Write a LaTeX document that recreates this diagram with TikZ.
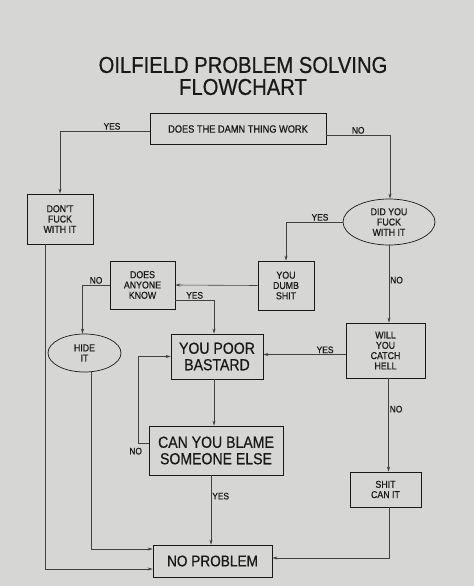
\documentclass[tikz,border=0pt]{standalone}
\usepackage{fontspec}
\setmainfont{Liberation Sans}[FakeStretch=0.88, FakeBold=0.6]
\usepackage{xcolor}
\usepackage{tikz}
\usetikzlibrary{
    shapes.geometric,
    arrows.meta,
    positioning
}
\definecolor{paper}{RGB}{214,214,212}
\definecolor{ink}{RGB}{25,25,25}
\definecolor{wire}{RGB}{65,65,65}
\tikzstyle{box} = [
    rectangle, draw=ink,
    line width=0.7pt,
    text=ink,
    align=center,
    inner sep=1pt
]
\tikzstyle{oval} = [
    ellipse, draw=ink,
    line width=0.7pt,
    text=ink,
    align=center,
    inner sep=0pt
]
\tikzstyle{arrow} = [
    draw=wire,
    line width=0.6pt,
    -{Stealth[length=5pt,width=3pt]}
]
\tikzstyle{lbl} = [
    text=ink,
    inner sep=1pt,
    font=\fontsize{9.5}{10}\selectfont
]

\begin{document}
\begin{tikzpicture}[
    x=1pt, y=-1pt,
    small/.style={font=\fontsize{10}{10.3}\selectfont},
    big/.style={font=\fontsize{16}{16.5}\selectfont}
]

% Papier
\fill[paper] (0,0) rectangle (474,586);
\useasboundingbox (0,0) rectangle (474,586);

% Titel
\node[text=ink, align=center, font=\fontsize{23}{22}\selectfont] (title) at (243,76)
    {OILFIELD PROBLEM SOLVING\\FLOWCHART};

% Fragen und Antworten
\node[box, font=\fontsize{10.5}{11}\selectfont, minimum width=176, minimum height=31] (work) at (238,129)
    {DOES THE DAMN THING WORK};
\node[box, small, minimum width=66, minimum height=50] (dontfuck) at (60,219)
    {DON'T\\FUCK\\WITH IT};
\node[oval, small, minimum width=92, minimum height=46] (didyou) at (389,222)
    {DID YOU\\FUCK\\WITH IT};
\node[box, small, minimum width=56, minimum height=49] (dumb) at (286,285.5)
    {YOU\\DUMB\\SHIT};
\node[box, small, minimum width=65, minimum height=48] (anyone) at (142.5,285)
    {DOES\\ANYONE\\KNOW};
\node[box, small, minimum width=79, minimum height=55] (catch) at (385.5,350.5)
    {WILL\\YOU\\CATCH\\HELL};
\node[oval, small, minimum width=73, minimum height=38] (hide) at (84.5,353)
    {HIDE\\IT};
\node[box, big, minimum width=92, minimum height=45] (poor) at (217,356.5)
    {YOU POOR\\BASTARD};
\node[box, big, minimum width=134, minimum height=49] (blame) at (216,450.5)
    {CAN YOU BLAME\\SOMEONE ELSE};
\node[box, small, minimum width=71, minimum height=35] (shit) at (385.5,489.5)
    {SHIT\\CAN IT};
\node[box, font=\fontsize{15.5}{16}\selectfont, minimum width=119, minimum height=32] (noprob) at (212.5,561)
    {NO PROBLEM};

% Verbindungen
\draw[arrow] ([yshift=-2]work.west) -| node[lbl, above, pos=0.21] {YES} (dontfuck.north);
\draw[arrow] ([yshift=-6]work.east) -| node[lbl, above, pos=0.25] {NO} ([xshift=1]didyou.north);
\draw[arrow] (didyou.west) -| node[lbl, above, pos=0.2] {YES} (dumb.north);
\draw[arrow] (didyou.south) -- node[lbl, right, pos=0.45] {NO} (didyou.south |- catch.north);
\draw[arrow] (dumb.west) -- (anyone.east);
\draw[arrow] (anyone.west) -| node[lbl, above, pos=0.25] {NO} ([xshift=-2]hide.north);
\draw[arrow] ([yshift=-15]anyone.east) -| node[lbl, above, pos=0.25] {YES} ([xshift=-3]poor.north);
\draw[arrow] ([yshift=-4]catch.west) -- node[lbl, above, pos=0.25] {YES} ([yshift=-4]catch.west -| poor.east);
\draw[arrow] ([xshift=-3]poor.south) -- ([xshift=-3]poor.south |- blame.north);
\draw[arrow] ([yshift=7]blame.west) -- ++(-10,0) node[lbl, below, xshift=-3, yshift=-3] {NO} |- (poor.west);
\draw[arrow] ([xshift=-5]blame.south) -- node[lbl, right, pos=0.3] {YES} ([xshift=-5]blame.south |- noprob.north);
\draw[arrow] ([xshift=3]catch.south) -- node[lbl, right, pos=0.33] {NO} ([xshift=3]catch.south |- shit.north);
\draw[arrow] ([xshift=-15]dontfuck.south) |- ([yshift=-8]noprob.west);
\draw[arrow] ([xshift=7]hide.south) |- ([yshift=12]noprob.west);
\draw[arrow] ([xshift=4]shit.south) |- ([yshift=3]noprob.east);

\end{tikzpicture}
\end{document}
